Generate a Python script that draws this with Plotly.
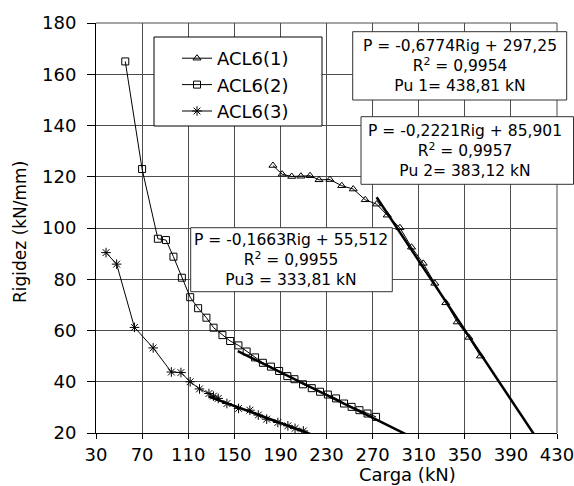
import plotly.graph_objects as go

# ---------------- data ----------------
s1_x = [183.5, 191.5, 199.8, 207.8, 215.7, 223.5, 233.0, 243.2, 253.2, 263.6,
        273.5, 282.7, 293.7, 303.8, 313.9, 324.0, 333.5, 343.4, 353.5, 363.6]
s1_y = [124.4, 121.0, 120.1, 120.2, 120.4, 118.8, 118.9, 116.5, 115.2, 111.0,
        109.3, 105.0, 100.1, 92.5, 86.2, 78.4, 70.8, 63.3, 57.3, 50.0]

s2_x = [55.4, 70.0, 83.7, 90.7, 97.2, 104.5, 111.7, 118.6, 125.8, 132.0,
        139.7, 146.4, 153.6, 160.7, 168.0, 174.8, 181.8, 188.9, 196.0, 202.2,
        209.6, 217.2, 224.4, 231.2, 238.3, 245.2, 251.8, 258.6, 265.6, 273.0]
s2_y = [165.0, 123.0, 95.8, 95.3, 88.8, 80.6, 73.0, 68.7, 65.0, 61.1,
        58.2, 55.9, 54.2, 51.8, 49.5, 47.4, 45.9, 44.2, 42.2, 41.0,
        39.0, 37.5, 36.1, 35.0, 33.5, 31.5, 30.2, 28.9, 27.6, 26.3]

s3_x = [38.7, 47.9, 63.4, 79.6, 95.4, 103.7, 111.7, 119.8, 128.0, 131.9,
        136.1, 143.6, 153.7, 163.5, 170.8, 178.1, 187.8, 196.5, 202.7, 209.9]
s3_y = [90.4, 85.9, 61.2, 53.2, 43.8, 43.6, 40.0, 37.2, 35.4, 34.4,
        33.5, 31.5, 29.6, 28.9, 27.0, 25.4, 24.1, 22.8, 21.8, 20.8]

series_names = ["ACL6(1)", "ACL6(2)", "ACL6(3)"]

# linear trendlines: Rig = a*P + b, drawn over a range of P
trend_a = [-0.6774, -0.2221, -0.1663]
trend_b = [297.25, 85.901, 55.512]
trend_x = [[273.5, 410.0], [153.0, 300.0], [128.0, 222.0]]

eq_text = [
    "P = -0,6774Rig + 297,25<br>R<sup>2</sup> = 0,9954<br>Pu 1= 438,81 kN",
    "P = -0,2221Rig + 85,901<br>R<sup>2</sup> = 0,9957<br>Pu 2= 383,12 kN",
    "P = -0,1663Rig + 55,512<br>R<sup>2</sup> = 0,9955<br>Pu3 = 333,81 kN",
]

x_ticks = list(range(30, 431, 40))
y_ticks = list(range(20, 181, 20))

# ---------------- layout helpers ----------------
W_FIG, H_FIG = 574, 486
L, R, T, B = 96, 557, 23, 433
def px(p):
    return (p - L) / (R - L)
def py(p):
    return (B - p) / (B - T)

FONT = "DejaVu Sans"
GRID = "#4d4d4d"

fig = go.Figure()

symbols = ["triangle-up-open", "square-open", "asterisk-open"]
sizes = [7, 7, 8]
for name, xs, ys, sym, sz in zip(series_names, [s1_x, s2_x, s3_x],
                                 [s1_y, s2_y, s3_y], symbols, sizes):
    fig.add_trace(go.Scatter(
        x=xs, y=ys, mode="lines+markers", name=name,
        line=dict(color="black", width=1),
        marker=dict(symbol=sym, size=sz, color="black",
                    line=dict(color="black", width=1)),
    ))

for a, b, xr in zip(trend_a, trend_b, trend_x):
    fig.add_trace(go.Scatter(
        x=xr, y=[a * v + b for v in xr], mode="lines", showlegend=False,
        line=dict(color="black", width=2.5), hoverinfo="skip",
    ))

shapes = []
# plot-area top and right edges (grid coloured)
shapes.append(dict(type="line", xref="paper", yref="paper", x0=0, x1=1,
                   y0=1, y1=1, line=dict(color=GRID, width=1), layer="below"))
shapes.append(dict(type="line", xref="paper", yref="paper", x0=1, x1=1,
                   y0=0, y1=1, line=dict(color=GRID, width=1), layer="below"))
# legend box
shapes.append(dict(type="rect", xref="paper", yref="paper",
                   x0=px(154), x1=px(322), y0=py(126), y1=py(37),
                   fillcolor="white", line=dict(color="black", width=1),
                   layer="above"))
# equation boxes
boxes = [(352.7, 31.7, 566.7, 100.0), (361.0, 116.7, 573.5, 184.3),
         (190.7, 227.7, 392.3, 291.7)]
centers = [(459.7, 66.0), (465.0, 151.0), (290.5, 259.5)]
for (x0, y0, x1, y1) in boxes:
    shapes.append(dict(type="rect", xref="paper", yref="paper",
                       x0=px(x0), x1=px(x1), y0=py(y1), y1=py(y0),
                       fillcolor="white", line=dict(color="#333333", width=1),
                       layer="above"))

annotations = []
for txt, (cx, cy) in zip(eq_text, centers):
    annotations.append(dict(
        text=txt, xref="paper", yref="paper", x=px(cx), y=py(cy),
        xanchor="center", yanchor="middle", showarrow=False, align="center",
        font=dict(family=FONT, size=15.5, color="black")))
annotations.append(dict(
    text="Carga (kN)", xref="paper", yref="paper", x=px(407), y=py(474),
    xanchor="center", yanchor="middle", showarrow=False,
    font=dict(family=FONT, size=18, color="black")))
annotations.append(dict(
    text="Rigidez (kN/mm)", xref="paper", yref="paper", x=px(20), y=py(232),
    xanchor="center", yanchor="middle", showarrow=False, textangle=-90,
    font=dict(family=FONT, size=17, color="black")))

fig.update_layout(
    width=W_FIG, height=H_FIG,
    margin=dict(l=L, r=W_FIG - R, t=T, b=H_FIG - B, pad=0,
                autoexpand=False),
    paper_bgcolor="white", plot_bgcolor="white",
    font=dict(family=FONT, size=18, color="black"),
    showlegend=True,
    legend=dict(x=px(177), y=py(40), xanchor="left", yanchor="top",
                bgcolor="rgba(0,0,0,0)", borderwidth=0,
                font=dict(family=FONT, size=18, color="black"),
                tracegroupgap=0, itemwidth=30),
    shapes=shapes, annotations=annotations,
)
fig.update_xaxes(range=[30, 430], tickvals=x_ticks, showgrid=True,
                 gridcolor=GRID, gridwidth=1, showline=True,
                 linecolor="black", linewidth=1, ticks="outside", ticklen=5,
                 tickcolor="black", ticklabelstandoff=0, zeroline=False,
                 ticklabeloverflow="allow", automargin=False,
                 tickfont=dict(family=FONT, size=18))
fig.update_yaxes(range=[20, 180], tickvals=y_ticks, showgrid=True,
                 gridcolor=GRID, gridwidth=1, showline=True,
                 linecolor="black", linewidth=1, ticks="outside", ticklen=8,
                 tickcolor="black", ticklabelstandoff=7, zeroline=False,
                 ticklabeloverflow="allow", automargin=False,
                 tickfont=dict(family=FONT, size=18))

fig.write_html("out.html")
